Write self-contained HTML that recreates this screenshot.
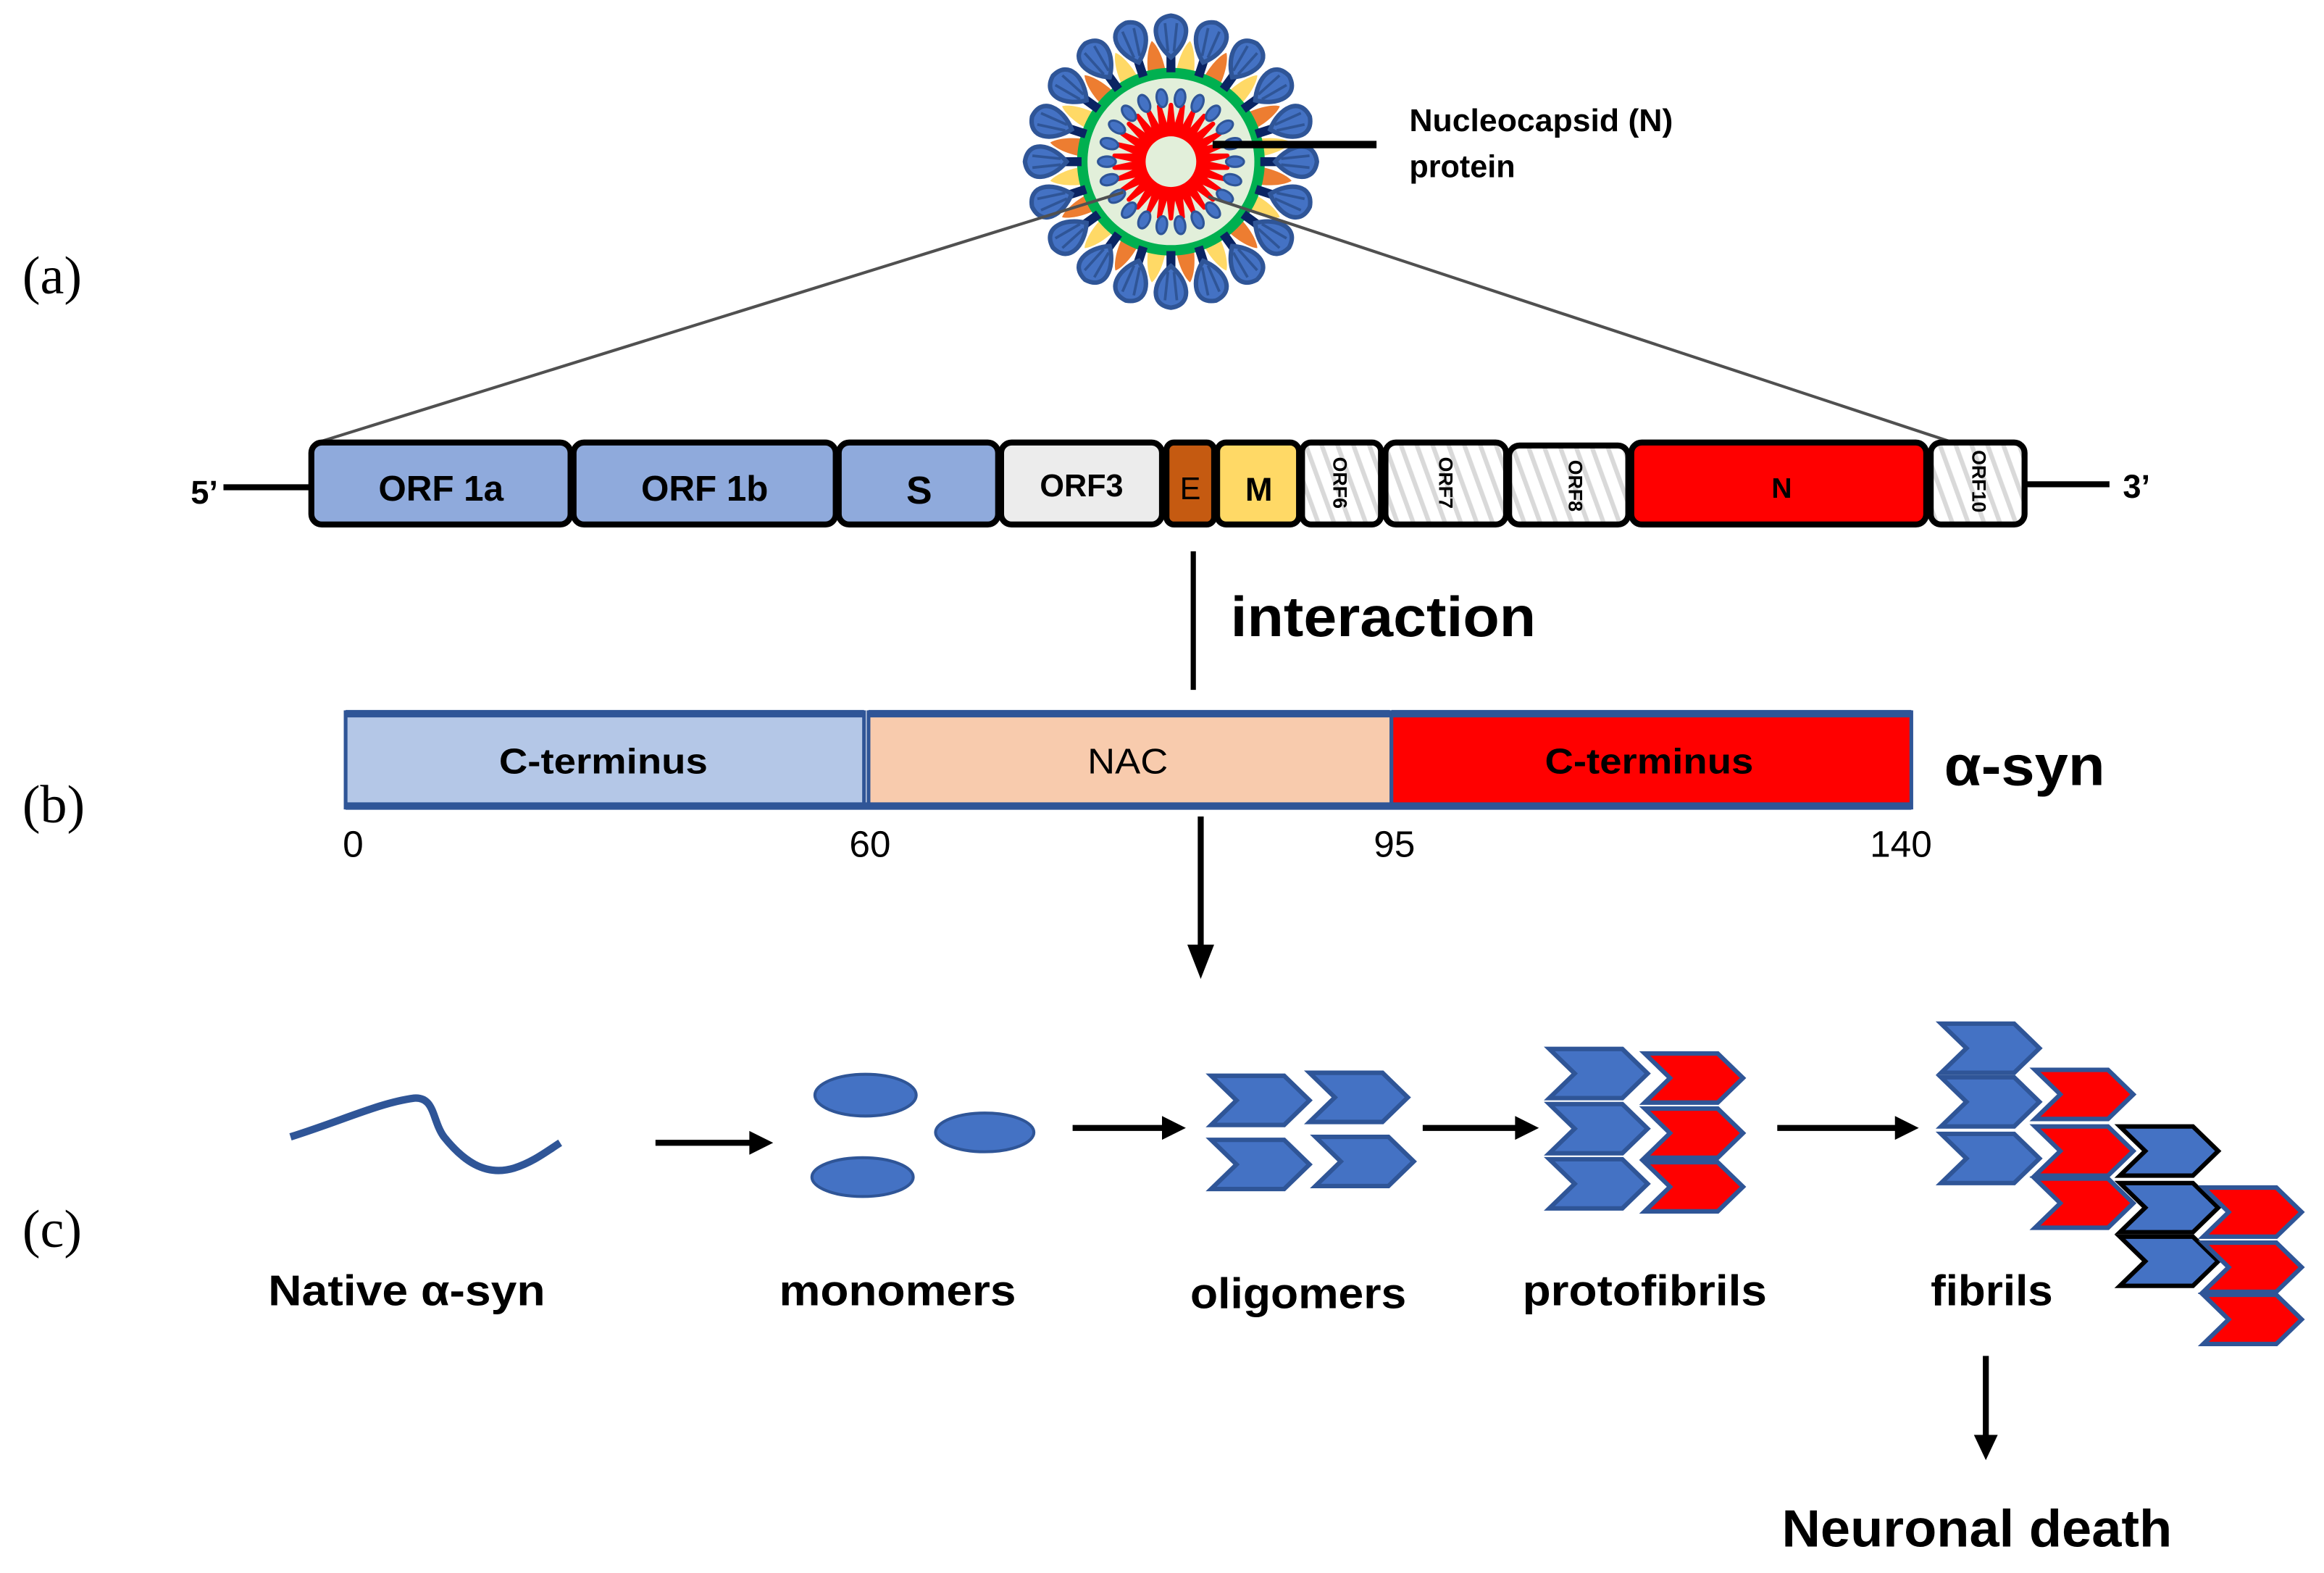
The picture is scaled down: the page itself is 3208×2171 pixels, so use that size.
<!DOCTYPE html>
<html><head><meta charset="utf-8"><style>
html,body{margin:0;padding:0;background:#fff}
svg{display:block}
text{font-family:"Liberation Sans",sans-serif}
</style></head><body>
<svg id="s" width="3208" height="2171" viewBox="0 0 1560 1055.7" xmlns="http://www.w3.org/2000/svg">
<defs>
<pattern id="hatch" width="10" height="10" patternUnits="userSpaceOnUse" patternTransform="rotate(-20)">
<rect width="10" height="10" fill="#fff"/><rect width="3" height="10" fill="#d9d9d9"/>
</pattern>
<g id="spike">
<path d="M-3,-60 L3,-60 L3,-78 L-3,-78 Z" fill="#0a2463"/>
<path d="M0,-98 C-15,-96 -12,-80 0,-70 C12,-80 15,-96 0,-98 Z" fill="#4472c4" stroke="#2f5597" stroke-width="3"/>
<path d="M-4,-93 L-2,-74 M4,-93 L2,-74" stroke="#2f5597" stroke-width="1.8"/>
</g>
<path id="petO" d="M-6,-58 C-6,-72 -2,-80 0,-82 C2,-80 6,-72 6,-58 Z" fill="#ed7d31"/>
<path id="petY" d="M-6,-58 C-6,-72 -2,-80 0,-82 C2,-80 6,-72 6,-58 Z" fill="#ffd966"/>
</defs>
<rect width="1560" height="1056" fill="#fff"/>

<g id="virus" transform="translate(786,108.5)"></g>

<line x1="814" y1="97" x2="924" y2="97" stroke="#000" stroke-width="5"/>
<text x="946" y="88" font-size="21" font-weight="bold" textLength="177" lengthAdjust="spacingAndGlyphs">Nucleocapsid (N)</text>
<text x="946" y="119" font-size="21" font-weight="bold">protein</text>

<line x1="754" y1="129" x2="213" y2="297" stroke="#505050" stroke-width="2"/>
<line x1="811" y1="132" x2="1308" y2="296" stroke="#505050" stroke-width="2"/>

<text x="15" y="197" font-size="36" style="font-family:'Liberation Serif',serif">(a)</text>
<text x="15" y="552" font-size="36" style="font-family:'Liberation Serif',serif">(b)</text>
<text x="15" y="837" font-size="36" style="font-family:'Liberation Serif',serif">(c)</text>

<line x1="150" y1="327" x2="210" y2="327" stroke="#000" stroke-width="4"/>
<line x1="1358" y1="325" x2="1416" y2="325" stroke="#000" stroke-width="4"/>
<text x="128" y="338" font-size="22" font-weight="bold">5’</text>
<text x="1425" y="334" font-size="22" font-weight="bold">3’</text>
<g stroke="#000" stroke-width="4">
<rect x="209" y="297" width="174" height="55" rx="7" fill="#8faadc"/>
<rect x="385" y="297" width="176" height="55" rx="7" fill="#8faadc"/>
<rect x="563" y="297" width="107" height="55" rx="7" fill="#8faadc"/>
<rect x="672" y="297" width="108" height="55" rx="7" fill="#ececec"/>
<rect x="783" y="297" width="32" height="55" rx="5" fill="#c55a11"/>
<rect x="817" y="297" width="55" height="55" rx="6" fill="#ffd966"/>
<rect x="874" y="297" width="53" height="55" rx="6" fill="url(#hatch)"/>
<rect x="930" y="297" width="81" height="55" rx="7" fill="url(#hatch)"/>
<rect x="1013" y="299" width="80" height="53" rx="7" fill="url(#hatch)"/>
<rect x="1095" y="297" width="198" height="55" rx="7" fill="#ff0000"/>
<rect x="1296" y="297" width="63" height="55" rx="7" fill="url(#hatch)"/>
</g>
<g font-weight="bold" text-anchor="middle">
<text x="296" y="336" font-size="24">ORF 1a</text>
<text x="473" y="336" font-size="24">ORF 1b</text>
<text x="617" y="338" font-size="26">S</text>
<text x="726" y="333" font-size="21">ORF3</text>
<text x="799" y="335" font-size="21" font-weight="normal">E</text>
<text x="845" y="336" font-size="22">M</text>
<text x="1196" y="334" font-size="19">N</text>
<text font-size="13" transform="translate(895,324) rotate(90)">ORF6</text>
<text font-size="13" transform="translate(966,324) rotate(90)">ORF7</text>
<text font-size="13" transform="translate(1053,326) rotate(90)">ORF8</text>
<text font-size="13" transform="translate(1324,323) rotate(90)">ORF10</text>
</g>

<line x1="801" y1="370" x2="801" y2="463" stroke="#000" stroke-width="3.5"/>
<text x="826" y="427" font-size="38" font-weight="bold" textLength="205" lengthAdjust="spacingAndGlyphs">interaction</text>

<rect x="232" y="478" width="348" height="64" fill="#b4c7e7" stroke="#2f5597" stroke-width="2.5"/>
<rect x="583" y="478" width="351" height="64" fill="#f8cbad" stroke="#2f5597" stroke-width="2.5"/>
<rect x="934" y="478" width="349" height="64" fill="#ff0000" stroke="#2f5597" stroke-width="2.5"/>
<line x1="583" y1="479" x2="933" y2="479" stroke="#2f5597" stroke-width="5"/>
<line x1="232" y1="479" x2="580" y2="479" stroke="#2f5597" stroke-width="5"/>
<line x1="934" y1="479" x2="1283" y2="479" stroke="#2f5597" stroke-width="5"/>
<line x1="232" y1="541" x2="1283" y2="541" stroke="#2f5597" stroke-width="5"/>
<g text-anchor="middle" font-size="24">
<text x="405" y="519" font-weight="bold" textLength="140" lengthAdjust="spacingAndGlyphs">C-terminus</text>
<text x="757" y="519" textLength="54" lengthAdjust="spacingAndGlyphs">NAC</text>
<text x="1107" y="519" font-weight="bold" textLength="140" lengthAdjust="spacingAndGlyphs">C-terminus</text>
</g>
<text x="1305" y="527" font-size="38" font-weight="bold" textLength="108" lengthAdjust="spacingAndGlyphs">α-syn</text>
<g font-size="25" text-anchor="middle">
<text x="237" y="575">0</text>
<text x="584" y="575">60</text>
<text x="936" y="575">95</text>
<text x="1276" y="575">140</text>
</g>

<g stroke="#000" stroke-width="4">
<line x1="806" y1="548" x2="806" y2="640"/>
<line x1="440" y1="767" x2="505" y2="767"/>
<line x1="720" y1="757" x2="782" y2="757"/>
<line x1="955" y1="757" x2="1019" y2="757"/>
<line x1="1193" y1="757" x2="1274" y2="757"/>
<line x1="1333" y1="910" x2="1333" y2="965"/>
</g>
<g fill="#000">
<polygon points="797,634 815,634 806,657"/>
<polygon points="503,759 503,775 519,767"/>
<polygon points="780,749 780,765 796,757"/>
<polygon points="1017,749 1017,765 1033,757"/>
<polygon points="1272,749 1272,765 1288,757"/>
<polygon points="1325,963 1341,963 1333,980"/>
</g>

<path d="M195,763 C230,752 255,740 278,737 C292,736 290,752 298,763 C310,778 325,790 345,784 C358,780 368,772 376,767" fill="none" stroke="#2f5597" stroke-width="5"/>
<g fill="#4472c4" stroke="#2f5597" stroke-width="2">
<ellipse cx="581" cy="735" rx="34" ry="14"/>
<ellipse cx="661" cy="760" rx="33" ry="13"/>
<ellipse cx="579" cy="790" rx="34" ry="13"/>
</g>
<g id="chev"></g>

<g font-size="29" font-weight="bold">
<text x="180" y="876" textLength="186" lengthAdjust="spacingAndGlyphs">Native α-syn</text>
<text x="523" y="876" textLength="159" lengthAdjust="spacingAndGlyphs">monomers</text>
<text x="799" y="878" textLength="145" lengthAdjust="spacingAndGlyphs">oligomers</text>
<text x="1022" y="876" textLength="164" lengthAdjust="spacingAndGlyphs">protofibrils</text>
<text x="1296" y="876" textLength="82" lengthAdjust="spacingAndGlyphs">fibrils</text>
<text x="1196" y="1038" font-size="35" textLength="262" lengthAdjust="spacingAndGlyphs">Neuronal death</text>
</g>
</svg>
<script>
(function(){
var NS="http://www.w3.org/2000/svg";
var v=document.getElementById("virus");
function el(t,a,p){var e=document.createElementNS(NS,t);for(var k in a)e.setAttribute(k,a[k]);(p||v).appendChild(e);return e;}
for(var i=0;i<20;i++){
 var ang=i*18+9;
 var u=el("use",{href:(i%2?"#petO":"#petY"),transform:"rotate("+ang+")"});
 u.setAttributeNS("http://www.w3.org/1999/xlink","href",(i%2?"#petO":"#petY"));
}
el("circle",{r:63,fill:"#00b050"});
el("circle",{r:56,fill:"#e2efda"});
for(var i=0;i<20;i++){
 var u=el("use",{href:"#spike",transform:"rotate("+(i*18)+")"});
 u.setAttributeNS("http://www.w3.org/1999/xlink","href","#spike");
}
var d="";
for(var i=0;i<=60;i++){
 var a=i/60*2*Math.PI, r=(i%2?38:19);
 d+=(i?"L":"M")+(r*Math.cos(a)).toFixed(1)+","+(r*Math.sin(a)).toFixed(1);
}
el("path",{d:d+"Z",fill:"#ff0000",stroke:"#ff0000","stroke-width":3,"stroke-linejoin":"round"});
el("circle",{r:17,fill:"#e2efda"});
for(var i=0;i<22;i++){
 var a=i/22*2*Math.PI;
 el("ellipse",{cx:(43*Math.cos(a)).toFixed(1),cy:(43*Math.sin(a)).toFixed(1),rx:3.5,ry:6,fill:"#4472c4",stroke:"#2f5597","stroke-width":1.5,transform:"rotate("+(a*180/Math.PI+90)+" "+(43*Math.cos(a)).toFixed(1)+" "+(43*Math.sin(a)).toFixed(1)+")"});
}
var g=document.getElementById("chev");
function ch(x,y,col,st){
 var w=66,h=33,dd=17;
 var p="M"+x+","+y+" L"+(x+w-dd)+","+y+" L"+(x+w)+","+(y+h/2)+" L"+(x+w-dd)+","+(y+h)+" L"+x+","+(y+h)+" L"+(x+dd)+","+(y+h/2)+" Z";
 el("path",{d:p,fill:col,stroke:st||"#2f5597","stroke-width":3,"stroke-linejoin":"miter"},g);
}
var B="#4472c4",R="#ff0000";
ch(813,722,B);ch(879,720,B);ch(813,765,B);ch(883,763,B);
ch(1040,704,B);ch(1040,741,B);ch(1040,778,B);
ch(1104,707,R);ch(1104,744,R);ch(1104,780,R);
ch(1303,687,B);ch(1303,723,B);ch(1303,761,B);
ch(1366,718,R);ch(1366,756,R);ch(1366,791,R);
ch(1423,756,B,"#000");ch(1423,794,B,"#000");ch(1423,830,B,"#000");
ch(1479,797,R);ch(1479,834,R);ch(1479,869,R);
})();
</script>
</body></html>
